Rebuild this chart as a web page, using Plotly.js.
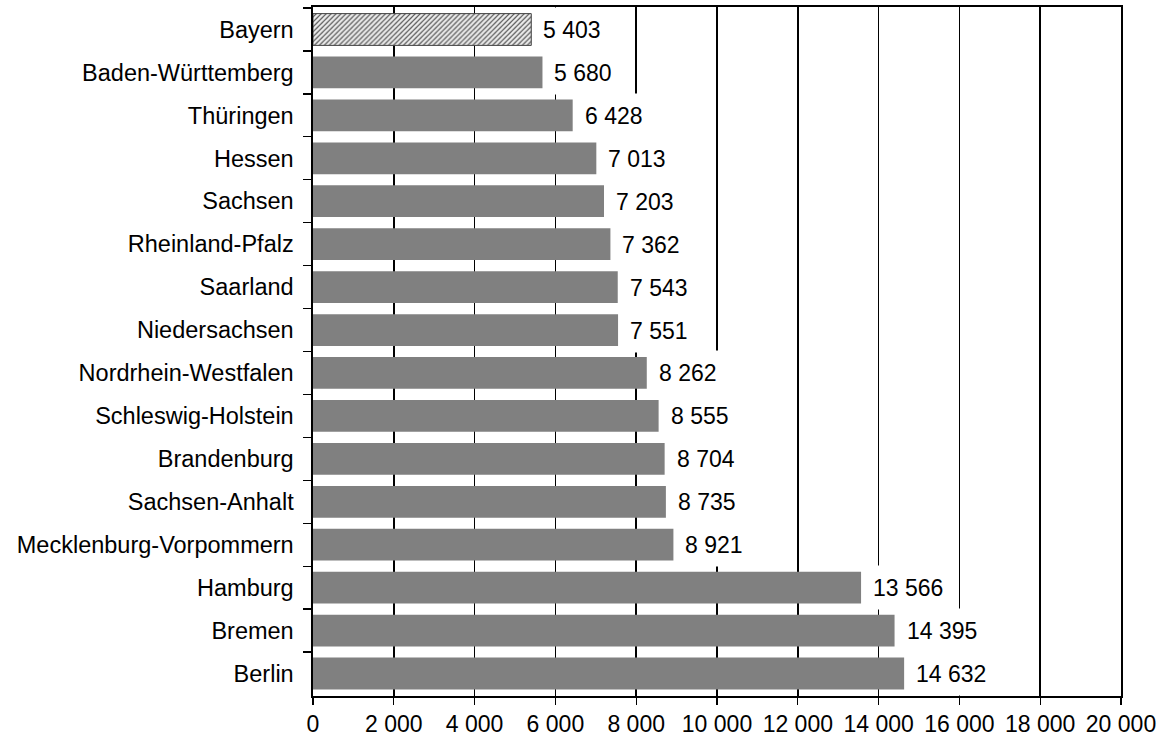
<!DOCTYPE html>
<html>
<head>
<meta charset="utf-8">
<script src="https://cdn.plot.ly/plotly-3.0.1.min.js"></script>
<style>html,body{margin:0;padding:0;background:#fff;}#chart{width:1164px;height:742px;}</style>
</head>
<body>
<div id="chart"></div>
<script>
const categories = ["Bayern","Baden-Württemberg","Thüringen","Hessen","Sachsen","Rheinland-Pfalz","Saarland","Niedersachsen","Nordrhein-Westfalen","Schleswig-Holstein","Brandenburg","Sachsen-Anhalt","Mecklenburg-Vorpommern","Hamburg","Bremen","Berlin"];
const values = [5403,5680,6428,7013,7203,7362,7543,7551,8262,8555,8704,8735,8921,13566,14395,14632];
const highlighted = ["Bayern"];
const tickValues = [0,2000,4000,6000,8000,10000,12000,14000,16000,18000,20000];

function fmt(v){ return String(v).replace(/\B(?=(\d{3})+(?!\d))/g, " "); }

const FONT = "Liberation Sans, Arial, sans-serif";

const normIdx = categories.map((c,i)=>i).filter(i => !highlighted.includes(categories[i]));
const hiIdx = categories.map((c,i)=>i).filter(i => highlighted.includes(categories[i]));

const traceMain = {
  type: "bar",
  orientation: "h",
  y: normIdx.map(i => categories[i]),
  x: normIdx.map(i => values[i]),
  marker: {color: "#808080", line: {width: 0}},
  hoverinfo: "skip"
};

const traceHi = {
  type: "bar",
  orientation: "h",
  y: hiIdx.map(i => categories[i]),
  x: hiIdx.map(i => values[i]),
  marker: {
    color: "#ffffff",
    pattern: {shape: "/", fgcolor: "#555555", bgcolor: "#eeeeee", size: 3.5, solidity: 0.35, fillmode: "replace"},
    line: {color: "#404040", width: 1}
  },
  hoverinfo: "skip"
};

const annotations = categories.map((c, i) => ({
  x: values[i],
  y: c,
  xref: "x",
  yref: "y",
  text: fmt(values[i]),
  showarrow: false,
  xanchor: "left",
  xshift: 8,
  bgcolor: "#ffffff",
  borderpad: 3,
  height: 37,
  font: {family: FONT, size: 23, color: "#000"}
}));

const layout = {
  width: 1164,
  height: 742,
  margin: {l: 313, r: 43, t: 7, b: 46},
  paper_bgcolor: "#ffffff",
  plot_bgcolor: "#ffffff",
  showlegend: false,
  barmode: "overlay",
  bargap: 0.26,
  font: {family: FONT, size: 23, color: "#000"},
  xaxis: {
    range: [0, 20000],
    tickvals: tickValues,
    ticktext: tickValues.map(fmt),
    showgrid: true,
    gridcolor: "#000000",
    gridwidth: 1.6,
    zeroline: false,
    showline: true,
    linecolor: "#000000",
    linewidth: 1.6,
    mirror: true,
    ticks: "outside",
    ticklen: 7,
    tickcolor: "#000000",
    tickwidth: 1.2,
    tickfont: {family: FONT, size: 23, color: "#000"},
    fixedrange: true
  },
  yaxis: {
    type: "category",
    categoryorder: "array",
    categoryarray: categories,
    autorange: "reversed",
    showgrid: false,
    zeroline: false,
    showline: true,
    linecolor: "#000000",
    linewidth: 1.6,
    mirror: true,
    ticks: "outside",
    tickson: "boundaries",
    ticklen: 8,
    tickcolor: "#000000",
    tickwidth: 1.2,
    ticklabelstandoff: 13,
    tickfont: {family: FONT, size: 23.5, color: "#000"},
    fixedrange: true
  },
  annotations: annotations
};

Plotly.newPlot("chart", [traceMain, traceHi], layout, {displayModeBar: false, staticPlot: true});
</script>
</body>
</html>
